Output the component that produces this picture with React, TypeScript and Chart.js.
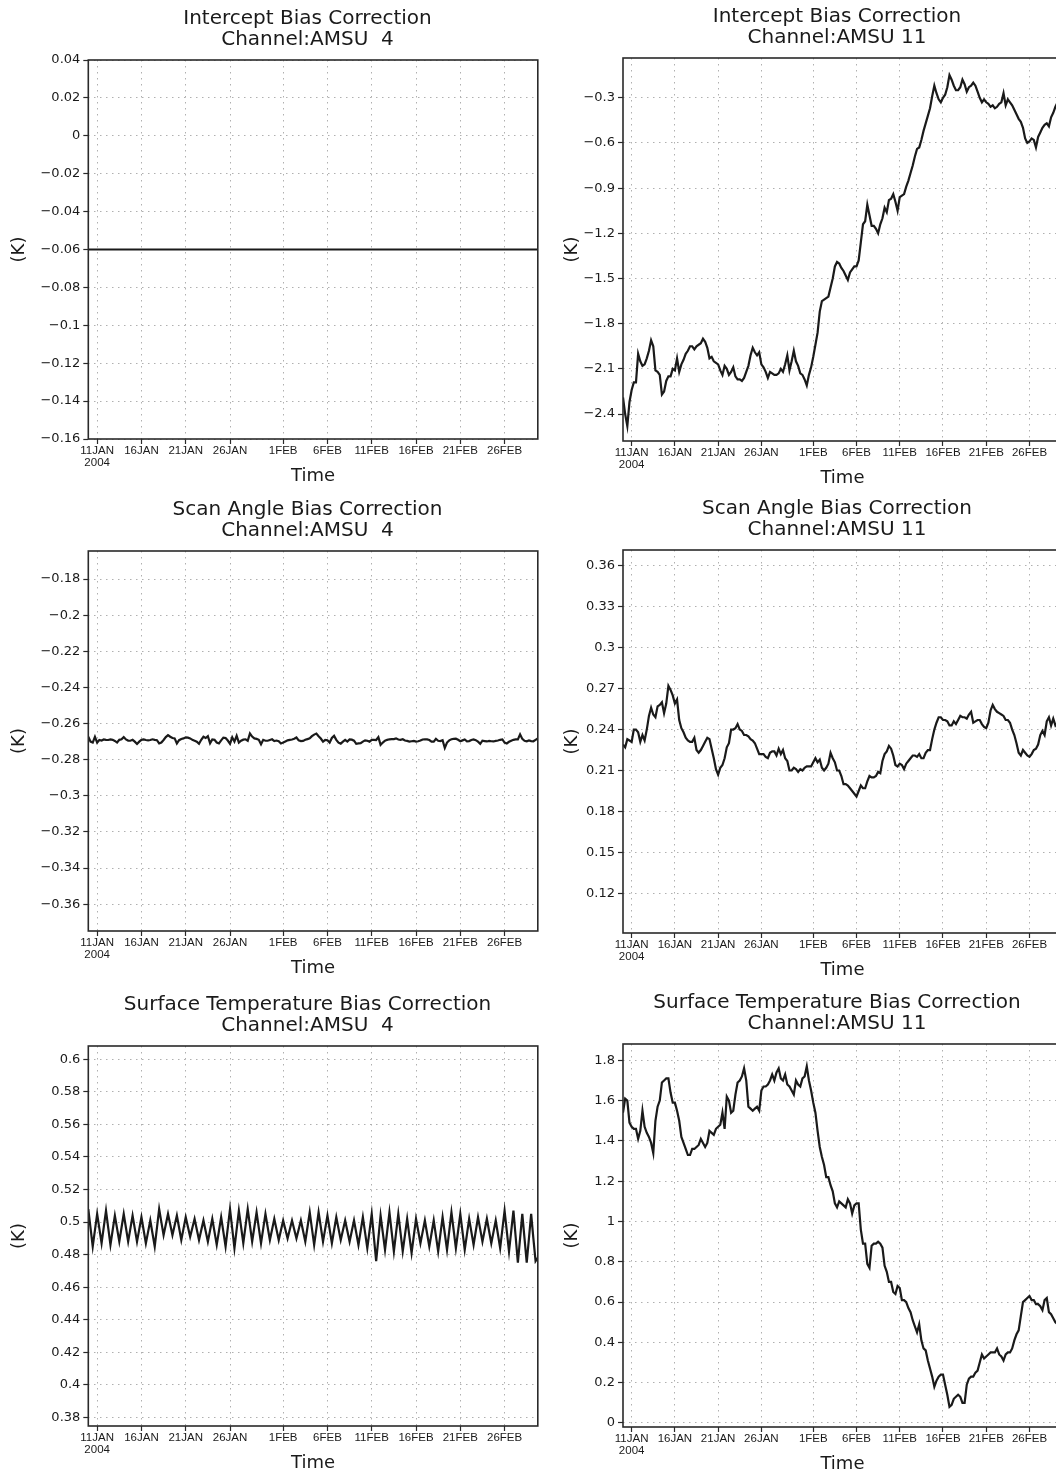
import React, { useEffect, useRef } from "react";
import { Chart, registerables } from "chart.js";

Chart.register(...registerables);

// ---------------- data ----------------
// 6-hourly analyses starting 10JAN2004 00Z, ending 29FEB2004 18Z
const stepHours = 6;
const xMinDays = 0;
const xMaxDays = 50.75;
const xTickDays = [1, 6, 11, 16, 22, 27, 32, 37, 42, 47];
const xTickLabels = ["11JAN", "16JAN", "21JAN", "26JAN", "1FEB", "6FEB", "11FEB", "16FEB", "21FEB", "26FEB"];
const firstTickYear = "2004";

const rowTitles = ["Intercept Bias Correction", "Scan Angle Bias Correction", "Surface Temperature Bias Correction"];
const channelTitles = ["Channel:AMSU  4", "Channel:AMSU 11"];
const yAxisTitle = "(K)";
const xAxisTitle = "Time";

const interceptAmsu4 = [
  -0.06, -0.06, -0.06, -0.06, -0.06, -0.06, -0.06, -0.06, -0.06, -0.06, -0.06, -0.06, -0.06, -0.06, -0.06, -0.06, -0.06,
  -0.06, -0.06, -0.06, -0.06, -0.06, -0.06, -0.06, -0.06, -0.06, -0.06, -0.06, -0.06, -0.06, -0.06, -0.06, -0.06, -0.06,
  -0.06, -0.06, -0.06, -0.06, -0.06, -0.06, -0.06, -0.06, -0.06, -0.06, -0.06, -0.06, -0.06, -0.06, -0.06, -0.06, -0.06,
  -0.06, -0.06, -0.06, -0.06, -0.06, -0.06, -0.06, -0.06, -0.06, -0.06, -0.06, -0.06, -0.06, -0.06, -0.06, -0.06, -0.06,
  -0.06, -0.06, -0.06, -0.06, -0.06, -0.06, -0.06, -0.06, -0.06, -0.06, -0.06, -0.06, -0.06, -0.06, -0.06, -0.06, -0.06,
  -0.06, -0.06, -0.06, -0.06, -0.06, -0.06, -0.06, -0.06, -0.06, -0.06, -0.06, -0.06, -0.06, -0.06, -0.06, -0.06, -0.06,
  -0.06, -0.06, -0.06, -0.06, -0.06, -0.06, -0.06, -0.06, -0.06, -0.06, -0.06, -0.06, -0.06, -0.06, -0.06, -0.06, -0.06,
  -0.06, -0.06, -0.06, -0.06, -0.06, -0.06, -0.06, -0.06, -0.06, -0.06, -0.06, -0.06, -0.06, -0.06, -0.06, -0.06, -0.06,
  -0.06, -0.06, -0.06, -0.06, -0.06, -0.06, -0.06, -0.06, -0.06, -0.06, -0.06, -0.06, -0.06, -0.06, -0.06, -0.06, -0.06,
  -0.06, -0.06, -0.06, -0.06, -0.06, -0.06, -0.06, -0.06, -0.06, -0.06, -0.06, -0.06, -0.06, -0.06, -0.06, -0.06, -0.06,
  -0.06, -0.06, -0.06, -0.06, -0.06, -0.06, -0.06, -0.06, -0.06, -0.06, -0.06, -0.06, -0.06, -0.06, -0.06, -0.06, -0.06,
  -0.06, -0.06, -0.06, -0.06, -0.06, -0.06, -0.06, -0.06, -0.06, -0.06, -0.06, -0.06, -0.06, -0.06, -0.06, -0.06, -0.06,
];

const interceptAmsu11 = [
  -2.29, -2.40, -2.48, -2.32, -2.24, -2.19, -2.19, -2.00, -2.05, -2.08, -2.07, -2.03,
  -1.98, -1.91, -1.95, -2.11, -2.12, -2.14, -2.27, -2.25, -2.18, -2.15, -2.15, -2.10,
  -2.11, -2.03, -2.12, -2.07, -2.04, -2.00, -1.98, -1.95, -1.95, -1.97, -1.95, -1.94,
  -1.93, -1.90, -1.92, -1.96, -2.03, -2.02, -2.05, -2.06, -2.07, -2.11, -2.14, -2.08,
  -2.10, -2.14, -2.12, -2.09, -2.15, -2.17, -2.17, -2.18, -2.16, -2.12, -2.08, -2.01,
  -1.96, -1.99, -2.01, -1.99, -2.07, -2.09, -2.12, -2.16, -2.12, -2.13, -2.14, -2.14,
  -2.13, -2.10, -2.12, -2.07, -2.01, -2.11, -2.05, -1.98, -2.05, -2.08, -2.13, -2.14,
  -2.17, -2.21, -2.14, -2.09, -2.02, -1.94, -1.86, -1.72, -1.65, -1.64, -1.63, -1.62,
  -1.56, -1.50, -1.42, -1.39, -1.40, -1.43, -1.45, -1.48, -1.51, -1.46, -1.44, -1.42,
  -1.42, -1.38, -1.26, -1.14, -1.12, -1.01, -1.08, -1.15, -1.15, -1.17, -1.20, -1.14,
  -1.10, -1.03, -1.06, -0.98, -0.97, -0.94, -0.99, -1.05, -0.96, -0.95, -0.94, -0.89,
  -0.85, -0.80, -0.75, -0.69, -0.64, -0.63, -0.58, -0.52, -0.47, -0.42, -0.37, -0.29,
  -0.22, -0.27, -0.31, -0.33, -0.30, -0.28, -0.23, -0.15, -0.18, -0.22, -0.25, -0.25,
  -0.23, -0.18, -0.21, -0.26, -0.23, -0.22, -0.20, -0.22, -0.26, -0.30, -0.33, -0.31,
  -0.33, -0.34, -0.36, -0.35, -0.37, -0.36, -0.34, -0.33, -0.27, -0.35, -0.31, -0.33,
  -0.35, -0.38, -0.41, -0.44, -0.46, -0.50, -0.57, -0.60, -0.59, -0.57, -0.58, -0.63,
  -0.56, -0.53, -0.50, -0.48, -0.47, -0.49, -0.43, -0.40, -0.36, -0.33, -0.31, -0.30,
];

const scanAngleAmsu4 = [
  -0.2673, -0.2700, -0.2705, -0.2673, -0.2705, -0.2691, -0.2694, -0.2688, -0.2690, -0.2691, -0.2688, -0.2690,
  -0.2696, -0.2705, -0.2690, -0.2687, -0.2675, -0.2688, -0.2694, -0.2695, -0.2690, -0.2700, -0.2713, -0.2700,
  -0.2690, -0.2688, -0.2691, -0.2693, -0.2691, -0.2687, -0.2690, -0.2692, -0.2710, -0.2705, -0.2691, -0.2675,
  -0.2664, -0.2673, -0.2680, -0.2682, -0.2710, -0.2692, -0.2685, -0.2682, -0.2676, -0.2678, -0.2682, -0.2690,
  -0.2695, -0.2700, -0.2712, -0.2690, -0.2673, -0.2680, -0.2670, -0.2709, -0.2688, -0.2690, -0.2705, -0.2710,
  -0.2693, -0.2678, -0.2680, -0.2694, -0.2712, -0.2676, -0.2700, -0.2668, -0.2705, -0.2695, -0.2689, -0.2687,
  -0.2695, -0.2655, -0.2672, -0.2682, -0.2685, -0.2690, -0.2715, -0.2690, -0.2695, -0.2695, -0.2691, -0.2687,
  -0.2697, -0.2694, -0.2698, -0.2710, -0.2705, -0.2699, -0.2693, -0.2690, -0.2688, -0.2684, -0.2677, -0.2693,
  -0.2697, -0.2696, -0.2690, -0.2686, -0.2682, -0.2670, -0.2661, -0.2655, -0.2670, -0.2683, -0.2700, -0.2690,
  -0.2692, -0.2705, -0.2680, -0.2668, -0.2690, -0.2706, -0.2711, -0.2700, -0.2690, -0.2700, -0.2688, -0.2689,
  -0.2695, -0.2712, -0.2710, -0.2709, -0.2700, -0.2693, -0.2695, -0.2700, -0.2690, -0.2690, -0.2691, -0.2675,
  -0.2718, -0.2705, -0.2695, -0.2690, -0.2687, -0.2686, -0.2686, -0.2682, -0.2688, -0.2690, -0.2687, -0.2694,
  -0.2696, -0.2700, -0.2698, -0.2696, -0.2700, -0.2698, -0.2694, -0.2688, -0.2687, -0.2688, -0.2691, -0.2700,
  -0.2700, -0.2685, -0.2695, -0.2697, -0.2692, -0.2735, -0.2705, -0.2693, -0.2687, -0.2685, -0.2684, -0.2690,
  -0.2698, -0.2693, -0.2688, -0.2698, -0.2697, -0.2691, -0.2688, -0.2692, -0.2700, -0.2712, -0.2695, -0.2697,
  -0.2699, -0.2696, -0.2698, -0.2699, -0.2696, -0.2694, -0.2690, -0.2688, -0.2705, -0.2710, -0.2701, -0.2695,
  -0.2690, -0.2688, -0.2688, -0.2660, -0.2685, -0.2695, -0.2698, -0.2693, -0.2697, -0.2698, -0.2690, -0.2682,
];

const scanAngleAmsu11 = [
  0.229, 0.227, 0.233, 0.232, 0.231, 0.240, 0.240, 0.238, 0.231, 0.236, 0.232, 0.240,
  0.250, 0.256, 0.251, 0.249, 0.257, 0.258, 0.260, 0.252, 0.259, 0.272, 0.269, 0.265,
  0.259, 0.262, 0.247, 0.241, 0.238, 0.234, 0.232, 0.231, 0.231, 0.234, 0.225, 0.223,
  0.225, 0.228, 0.231, 0.234, 0.233, 0.226, 0.219, 0.211, 0.207, 0.212, 0.214, 0.219,
  0.227, 0.230, 0.240, 0.240, 0.241, 0.244, 0.240, 0.239, 0.236, 0.236, 0.235, 0.233,
  0.232, 0.230, 0.226, 0.222, 0.222, 0.222, 0.220, 0.219, 0.223, 0.224, 0.224, 0.221,
  0.226, 0.222, 0.225, 0.219, 0.217, 0.210, 0.210, 0.212, 0.211, 0.209, 0.211, 0.210,
  0.212, 0.213, 0.213, 0.213, 0.216, 0.219, 0.216, 0.218, 0.212, 0.210, 0.212, 0.215,
  0.223, 0.219, 0.216, 0.210, 0.210, 0.206, 0.200, 0.200, 0.199, 0.197, 0.195, 0.193,
  0.191, 0.195, 0.199, 0.197, 0.197, 0.202, 0.206, 0.205, 0.205, 0.206, 0.209, 0.208,
  0.217, 0.222, 0.224, 0.228, 0.226, 0.221, 0.214, 0.213, 0.215, 0.214, 0.211, 0.215,
  0.217, 0.219, 0.221, 0.221, 0.220, 0.222, 0.219, 0.219, 0.223, 0.225, 0.225, 0.233,
  0.240, 0.245, 0.249, 0.249, 0.247, 0.247, 0.246, 0.243, 0.243, 0.246, 0.244, 0.247,
  0.250, 0.249, 0.249, 0.248, 0.251, 0.253, 0.245, 0.246, 0.247, 0.247, 0.244, 0.242,
  0.241, 0.245, 0.254, 0.258, 0.255, 0.253, 0.252, 0.251, 0.250, 0.247, 0.247, 0.245,
  0.240, 0.236, 0.230, 0.223, 0.221, 0.225, 0.223, 0.221, 0.220, 0.222, 0.225, 0.226,
  0.229, 0.236, 0.239, 0.236, 0.246, 0.249, 0.243, 0.248, 0.243, 0.245, 0.244, 0.246,
];

const surfTempAmsu4 = [
  0.508, 0.4965, 0.485, 0.495, 0.505, 0.496, 0.487, 0.497, 0.507, 0.4965, 0.486, 0.495,
  0.504, 0.496, 0.488, 0.4965, 0.505, 0.4965, 0.488, 0.496, 0.504, 0.496, 0.488, 0.4955,
  0.503, 0.495, 0.487, 0.494, 0.501, 0.493, 0.485, 0.4965, 0.508, 0.500, 0.492, 0.4985,
  0.505, 0.4985, 0.492, 0.498, 0.504, 0.4965, 0.489, 0.496, 0.503, 0.497, 0.491, 0.4965,
  0.502, 0.4955, 0.489, 0.495, 0.501, 0.4945, 0.488, 0.495, 0.502, 0.494, 0.486, 0.4945,
  0.503, 0.494, 0.485, 0.4965, 0.508, 0.496, 0.484, 0.4955, 0.507, 0.497, 0.487, 0.4975,
  0.508, 0.498, 0.488, 0.497, 0.506, 0.4965, 0.487, 0.496, 0.505, 0.497, 0.489, 0.4955,
  0.502, 0.4955, 0.489, 0.495, 0.501, 0.4955, 0.490, 0.4955, 0.501, 0.4955, 0.490, 0.4955,
  0.501, 0.4945, 0.488, 0.497, 0.506, 0.496, 0.486, 0.496, 0.506, 0.497, 0.488, 0.496,
  0.504, 0.4955, 0.487, 0.495, 0.503, 0.496, 0.489, 0.495, 0.501, 0.4945, 0.488, 0.4945,
  0.501, 0.4935, 0.486, 0.4945, 0.503, 0.4935, 0.484, 0.4945, 0.505, 0.4905, 0.476, 0.490,
  0.504, 0.4935, 0.483, 0.4945, 0.506, 0.494, 0.482, 0.4935, 0.505, 0.4935, 0.482, 0.492,
  0.502, 0.4915, 0.481, 0.4915, 0.502, 0.4945, 0.487, 0.494, 0.501, 0.493, 0.485, 0.493,
  0.501, 0.4915, 0.482, 0.4925, 0.503, 0.493, 0.483, 0.4945, 0.506, 0.495, 0.484, 0.4945,
  0.505, 0.494, 0.483, 0.4925, 0.502, 0.494, 0.486, 0.4945, 0.503, 0.4955, 0.488, 0.495,
  0.502, 0.4945, 0.487, 0.494, 0.501, 0.4925, 0.484, 0.4955, 0.507, 0.4945, 0.482, 0.4945,
  0.507, 0.491, 0.475, 0.490, 0.505, 0.490, 0.475, 0.490, 0.505, 0.490, 0.476, 0.478,
];

const surfTempAmsu11 = [
  1.54, 1.61, 1.60, 1.49, 1.47, 1.46, 1.46, 1.41, 1.45, 1.55, 1.47, 1.44,
  1.42, 1.39, 1.34, 1.50, 1.57, 1.60, 1.69, 1.70, 1.71, 1.71, 1.64, 1.59,
  1.59, 1.55, 1.50, 1.42, 1.39, 1.36, 1.33, 1.33, 1.36, 1.36, 1.37, 1.38,
  1.41, 1.39, 1.37, 1.39, 1.45, 1.44, 1.43, 1.46, 1.47, 1.48, 1.54, 1.46,
  1.62, 1.60, 1.54, 1.55, 1.63, 1.69, 1.70, 1.72, 1.76, 1.70, 1.57, 1.56,
  1.55, 1.56, 1.57, 1.55, 1.65, 1.67, 1.67, 1.68, 1.70, 1.73, 1.70, 1.74,
  1.76, 1.71, 1.70, 1.73, 1.68, 1.67, 1.65, 1.63, 1.70, 1.68, 1.67, 1.71,
  1.72, 1.77, 1.70, 1.65, 1.59, 1.54, 1.45, 1.37, 1.32, 1.28, 1.22, 1.22,
  1.18, 1.15, 1.09, 1.07, 1.10, 1.09, 1.08, 1.07, 1.11, 1.09, 1.04, 1.08,
  1.09, 1.09, 0.96, 0.89, 0.89, 0.79, 0.77, 0.88, 0.89, 0.89, 0.90, 0.89,
  0.87, 0.78, 0.75, 0.70, 0.70, 0.65, 0.64, 0.68, 0.67, 0.61, 0.61, 0.60,
  0.57, 0.55, 0.51, 0.48, 0.45, 0.49, 0.41, 0.37, 0.36, 0.31, 0.27, 0.23,
  0.18, 0.21, 0.23, 0.24, 0.24, 0.19, 0.14, 0.08, 0.09, 0.12, 0.13, 0.14,
  0.13, 0.10, 0.10, 0.19, 0.22, 0.23, 0.23, 0.25, 0.26, 0.30, 0.34, 0.32,
  0.33, 0.34, 0.35, 0.35, 0.35, 0.37, 0.34, 0.33, 0.31, 0.34, 0.35, 0.35,
  0.37, 0.41, 0.44, 0.46, 0.53, 0.60, 0.61, 0.62, 0.63, 0.61, 0.61, 0.59,
  0.59, 0.58, 0.56, 0.61, 0.62, 0.55, 0.54, 0.52, 0.50, 0.49, 0.47, 0.46,
];

// y-axis tick values and axis ranges
const interceptAmsu4Ticks = [0.04, 0.02, 0, -0.02, -0.04, -0.06, -0.08, -0.1, -0.12, -0.14, -0.16];
const interceptAmsu4Range = [-0.16, 0.04];
const interceptAmsu11Ticks = [-0.3, -0.6, -0.9, -1.2, -1.5, -1.8, -2.1, -2.4];
const interceptAmsu11Range = [-2.579, -0.036];
const scanAngleAmsu4Ticks = [-0.18, -0.2, -0.22, -0.24, -0.26, -0.28, -0.3, -0.32, -0.34, -0.36];
const scanAngleAmsu4Range = [-0.3748, -0.1645];
const scanAngleAmsu11Ticks = [0.36, 0.33, 0.3, 0.27, 0.24, 0.21, 0.18, 0.15, 0.12];
const scanAngleAmsu11Range = [0.091, 0.3715];
const surfTempAmsu4Ticks = [0.6, 0.58, 0.56, 0.54, 0.52, 0.5, 0.48, 0.46, 0.44, 0.42, 0.4, 0.38];
const surfTempAmsu4Range = [0.3747, 0.6082];
const surfTempAmsu11Ticks = [1.8, 1.6, 1.4, 1.2, 1, 0.8, 0.6, 0.4, 0.2, 0];
const surfTempAmsu11Range = [-0.02, 1.881];

// ---------------- layout / style ----------------
const FONT = '"DejaVu Sans", "Liberation Sans", sans-serif';
const TICK_FONT_X = '"Liberation Sans", "DejaVu Sans", sans-serif';
const TEXT = "#1a1a1a";
const GRID = "#b0b0b0";
const FRAME = "#2a2a2a";
const LINE = "#1a1a1a";

const CANVAS_H = 490;
const COLS = [
  { left: 0, width: 615, yAxisW: 88.3, plotRight: 537.8, yTitlePad: 10 },
  { left: 560, width: 554, yAxisW: 63, plotRight: 1061.9, yTitlePad: 3.3 },
];
const PLOT_TB = [
  [[60, 439], [551, 931], [1046, 1426]],
  [[58, 441], [550, 933], [1044, 1427]],
];

type Spec = { row: number; col: number; values: number[]; ticks: number[]; range: number[] };
const specs: Spec[] = [
  { row: 0, col: 0, values: interceptAmsu4, ticks: interceptAmsu4Ticks, range: interceptAmsu4Range },
  { row: 0, col: 1, values: interceptAmsu11, ticks: interceptAmsu11Ticks, range: interceptAmsu11Range },
  { row: 1, col: 0, values: scanAngleAmsu4, ticks: scanAngleAmsu4Ticks, range: scanAngleAmsu4Range },
  { row: 1, col: 1, values: scanAngleAmsu11, ticks: scanAngleAmsu11Ticks, range: scanAngleAmsu11Range },
  { row: 2, col: 0, values: surfTempAmsu4, ticks: surfTempAmsu4Ticks, range: surfTempAmsu4Range },
  { row: 2, col: 1, values: surfTempAmsu11, ticks: surfTempAmsu11Ticks, range: surfTempAmsu11Range },
];

const framePlugin = {
  id: "gradsFrame",
  afterDraw(chart: any) {
    const { ctx, chartArea } = chart;
    const { left, top, right, bottom } = chartArea;
    ctx.save();
    ctx.strokeStyle = FRAME;
    ctx.lineWidth = 1.6;
    ctx.strokeRect(left, top, right - left, bottom - top);
    ctx.restore();
  },
};

function fmt(v: number) {
  const s = String(Number(v.toFixed(4)));
  return s.replace("-", "\u2212");
}

function Panel({ spec }: { spec: Spec }) {
  const ref = useRef<HTMLCanvasElement | null>(null);
  const col = COLS[spec.col];
  const [plotTop, plotBottom] = PLOT_TB[spec.col][spec.row];
  const canvasTop = plotTop - 60;
  const plotH = plotBottom - plotTop;
  const xAxisH = CANVAS_H - 60 - plotH;
  const timeTitlePadBottom = CANVAS_H - 60 - plotH - 9 - 37;
  const padRightW = col.left + col.width - col.plotRight;

  useEffect(() => {
    const canvas = ref.current;
    if (!canvas) return;
    const points = spec.values.map((v, i) => ({ x: (i * stepHours) / 24, y: v }));
    const chart = new Chart(canvas, {
      type: "line",
      data: {
        datasets: [
          {
            data: points,
            borderColor: LINE,
            borderWidth: 2.2,
            pointRadius: 0,
            tension: 0,
            fill: false,
          },
        ],
      },
      options: {
        animation: false,
        responsive: false,
        maintainAspectRatio: false,
        devicePixelRatio: 1,
        layout: { padding: 0 },
        events: [],
        plugins: {
          legend: { display: false },
          tooltip: { enabled: false },
          title: {
            display: true,
            text: [rowTitles[spec.row], channelTitles[spec.col]],
            color: TEXT,
            font: { family: FONT, size: 20, weight: "normal", lineHeight: 1.05 },
            padding: { top: 8, bottom: 10 },
          },
        },
        scales: {
          x: {
            type: "linear",
            min: xMinDays,
            max: xMaxDays,
            bounds: "data",
            afterBuildTicks: (s: any) => {
              s.ticks = xTickDays.map((v) => ({ value: v }));
            },
            afterFit: (s: any) => {
              s.height = xAxisH;
            },
            ticks: {
              autoSkip: false,
              maxRotation: 0,
              minRotation: 0,
              padding: 1,
              color: TEXT,
              font: { family: TICK_FONT_X, size: 11.5, lineHeight: 1.05 },
              callback: (_v: any, i: number) => (i === 0 ? [xTickLabels[0], firstTickYear] : xTickLabels[i]),
            },
            grid: { color: GRID, lineWidth: 1, tickLength: 5, tickColor: FRAME, tickWidth: 1.2, drawTicks: true },
            border: { display: false, dash: [1.5, 4.5] },
            title: {
              display: true,
              text: xAxisTitle,
              color: TEXT,
              font: { family: FONT, size: 18, lineHeight: 1 },
              padding: { top: 0, bottom: timeTitlePadBottom },
            },
          },
          y: {
            type: "linear",
            position: "left",
            min: spec.range[0],
            max: spec.range[1],
            bounds: "data",
            afterBuildTicks: (s: any) => {
              s.ticks = spec.ticks.map((v) => ({ value: v }));
            },
            afterFit: (s: any) => {
              s.width = col.yAxisW;
            },
            ticks: {
              autoSkip: false,
              padding: 3,
              color: TEXT,
              font: { family: FONT, size: 13 },
              callback: (v: any) => fmt(Number(v)),
            },
            grid: { color: GRID, lineWidth: 1, tickLength: 5, tickColor: FRAME, tickWidth: 1.2, drawTicks: true },
            border: { display: false, dash: [1.5, 4.5] },
            title: {
              display: true,
              text: yAxisTitle,
              color: TEXT,
              font: { family: FONT, size: 18, lineHeight: 1 },
              padding: { top: col.yTitlePad, bottom: 0 },
            },
          },
          pad: {
            type: "linear",
            position: "right",
            display: true,
            grid: { display: false },
            ticks: { display: false },
            border: { display: false },
            afterFit: (s: any) => {
              s.width = padRightW;
            },
          },
        },
      } as any,
      plugins: [framePlugin],
    });
    return () => chart.destroy();
  }, []);

  return (
    <canvas
      ref={ref}
      width={col.width}
      height={CANVAS_H}
      style={{ position: "absolute", left: col.left, top: canvasTop, width: col.width, height: CANVAS_H }}
    />
  );
}

export default function App() {
  return (
    <div
      style={{
        position: "absolute",
        left: 0,
        top: 0,
        width: 1056,
        height: 1473,
        overflow: "hidden",
        background: "#ffffff",
      }}
    >
      {specs.map((s, i) => (
        <Panel key={i} spec={s} />
      ))}
    </div>
  );
}
